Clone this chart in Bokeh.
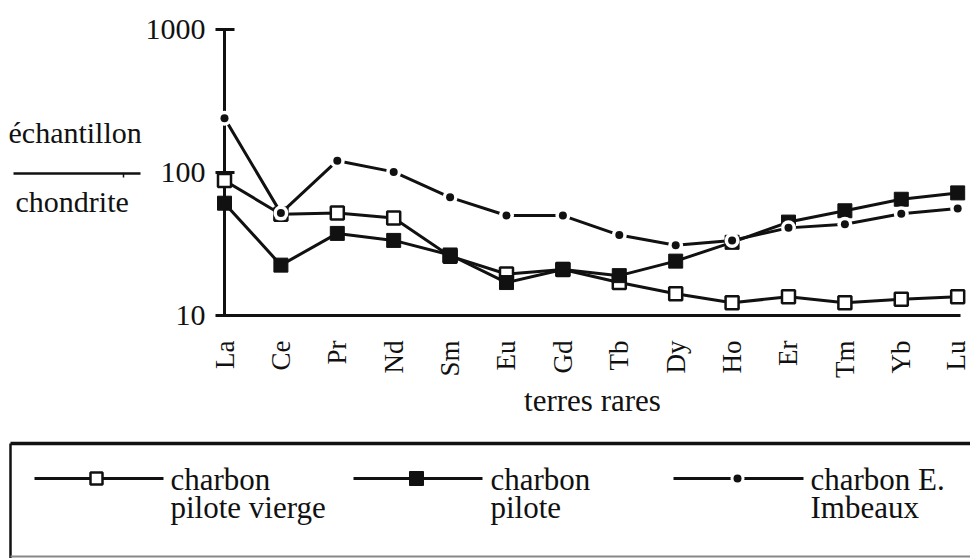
from bokeh.plotting import figure
from bokeh.layouts import row
from bokeh.models import Range1d, FixedTicker
from bokeh.core.properties import value
from bokeh.embed import file_html
from bokeh.resources import INLINE
import math

# ---- data ----
elements = ["La", "Ce", "Pr", "Nd", "Sm", "Eu", "Gd", "Tb", "Dy", "Ho", "Er", "Tm", "Yb", "Lu"]
pilote_vierge = [88, 51, 52, 48, 26, 19.5, 21, 17, 14.2, 12.3, 13.5, 12.3, 13, 13.5]
pilote = [61, 22.5, 37.5, 33.5, 26.5, 17, 21, 19, 24, 32.5, 45, 54, 65, 72]
imbeaux = [240, 52, 121, 101, 67, 50, 50, 36.5, 31, 33.5, 41, 43.5, 51.5, 56]
y_ticks = [10, 100, 1000]
y_tick_labels = ["10", "100", "1000"]
legend_line1 = ["charbon", "charbon", "charbon E."]
legend_line2 = ["pilote vierge", "pilote", "Imbeaux"]
x_label = "terres rares"
y_label_top = "échantillon"
y_label_bottom = "chondrite"

FONT = "Liberation Serif"
INK = "#111111"
xs = list(range(len(elements)))

TOP, BOTTOM_BORDER, CHART_H = 29, 121, 436
LEFT_W = 142

# ---- y title (left strip) ----
yl = figure(width=LEFT_W, height=CHART_H, x_range=Range1d(0, LEFT_W),
            y_range=Range1d(CHART_H - BOTTOM_BORDER, TOP),
            output_backend="svg", toolbar_location=None,
            min_border_left=0, min_border_right=0,
            min_border_top=TOP, min_border_bottom=BOTTOM_BORDER)
yl.axis.visible = False
yl.xgrid.visible = False
yl.ygrid.visible = False
yl.outline_line_color = None
yl.text(x=[8, 15], y=[132, 201], text=[y_label_top, y_label_bottom], text_font=value(FONT),
        text_font_size="30px", text_color=INK, text_baseline="alphabetic")
yl.segment(x0=[13], y0=[173], x1=[140], y1=[173], line_color=INK, line_width=2.5)
yl.segment(x0=[123], y0=[173], x1=[123], y1=[177], line_color=INK, line_width=1.5)

# ---- main chart ----
p = figure(width=970 - LEFT_W, height=CHART_H, y_axis_type="log",
           x_range=Range1d(0, 13.05), y_range=Range1d(10, 1000),
           output_backend="svg", toolbar_location=None,
           min_border_left=80, min_border_right=10, min_border_top=TOP,
           min_border_bottom=BOTTOM_BORDER)
p.outline_line_color = None
p.xgrid.visible = False
p.ygrid.visible = False

p.yaxis.ticker = FixedTicker(ticks=y_ticks, minor_ticks=[])
p.yaxis.major_label_overrides = {t: s for t, s in zip(y_ticks, y_tick_labels)}
p.yaxis.major_tick_in = 10
p.yaxis.major_tick_out = 9
p.yaxis.minor_tick_in = 0
p.yaxis.minor_tick_out = 0
p.yaxis.axis_line_width = 3
p.yaxis.major_tick_line_width = 3
p.yaxis.axis_line_color = INK
p.yaxis.major_tick_line_color = INK
p.yaxis.major_label_text_font = FONT
p.yaxis.major_label_text_font_size = "30px"
p.yaxis.major_label_text_color = INK
p.yaxis.major_label_standoff = 10

p.xaxis.ticker = FixedTicker(ticks=xs, minor_ticks=[])
p.xaxis.major_label_overrides = {i: e for i, e in zip(xs, elements)}
p.xaxis.major_label_orientation = math.pi / 2
p.xaxis.major_tick_in = 0
p.xaxis.major_tick_out = 0
p.xaxis.minor_tick_in = 0
p.xaxis.minor_tick_out = 0
p.xaxis.axis_line_width = 3
p.xaxis.axis_line_color = INK
p.xaxis.major_label_text_font = FONT
p.xaxis.major_label_text_font_size = "27px"
p.xaxis.major_label_text_color = INK
p.xaxis.major_label_standoff = 25
p.xaxis.axis_label = x_label
p.xaxis.axis_label_text_font = FONT
p.xaxis.axis_label_text_font_size = "31px"
p.xaxis.axis_label_text_font_style = "normal"
p.xaxis.axis_label_text_color = INK
p.xaxis.axis_label_standoff = 2

# lines at glyph level, markers in the overlay level so that they are not cut at the frame edge
p.line(xs, pilote_vierge, line_color=INK, line_width=3)
p.line(xs, pilote, line_color=INK, line_width=3)
p.line(xs, imbeaux, line_color=INK, line_width=3)
p.scatter(xs, pilote_vierge, marker="square", size=13, fill_color="white", line_color=INK,
          line_width=2.5, level="overlay")
p.scatter(xs, pilote, marker="square", size=14, fill_color=INK, line_color=INK, level="overlay")
p.scatter(xs, imbeaux, marker="circle", size=15, fill_color="white", line_color=None, level="overlay")
p.scatter(xs, imbeaux, marker="circle", size=8, fill_color=INK, line_color=None, level="overlay")

# ---- legend box ----
LG_TOP, LG_H, LG_W = CHART_H, 558 - CHART_H, 970
lg = figure(width=LG_W, height=LG_H, x_range=Range1d(0, LG_W), y_range=Range1d(LG_TOP + LG_H, LG_TOP),
            output_backend="svg", toolbar_location=None,
            min_border_left=0, min_border_right=0, min_border_top=0, min_border_bottom=0)
lg.axis.visible = False
lg.xgrid.visible = False
lg.ygrid.visible = False
lg.outline_line_color = None

lg.segment(x0=[10], y0=[443], x1=[1100], y1=[443], line_color=INK, line_width=3.5)
lg.segment(x0=[10], y0=[443], x1=[10], y1=[560], line_color=INK, line_width=2.5)
lg.segment(x0=[10], y0=[556], x1=[1100], y1=[556], line_color="#888888", line_width=2)

item_line_x0 = [34, 353, 673]
item_line_x1 = [163, 482, 803]
item_mark_x = [96, 416, 737]
item_text_x = [170, 490, 810]
LY = 478
lg.segment(x0=item_line_x0, y0=[LY] * 3, x1=item_line_x1, y1=[LY] * 3, line_color=INK, line_width=3)
lg.scatter([item_mark_x[0]], [LY], marker="square", size=12, fill_color="white", line_color=INK, line_width=2.5)
lg.scatter([item_mark_x[1]], [LY], marker="square", size=14, fill_color=INK, line_color=INK)
lg.scatter([item_mark_x[2]], [LY], marker="circle", size=14, fill_color="white", line_color=None)
lg.scatter([item_mark_x[2]], [LY], marker="circle", size=8, fill_color=INK, line_color=None)
lg.text(x=item_text_x, y=[479] * 3, text=legend_line1, text_font=value(FONT),
        text_font_size="31px", text_color=INK, text_baseline="alphabetic")
lg.text(x=item_text_x, y=[507] * 3, text=legend_line2, text_font=value(FONT),
        text_font_size="31px", text_color=INK, text_baseline="alphabetic")

top_row = row(yl, p, spacing=0)
open("out.html", "w").write(file_html([top_row, lg], INLINE))
